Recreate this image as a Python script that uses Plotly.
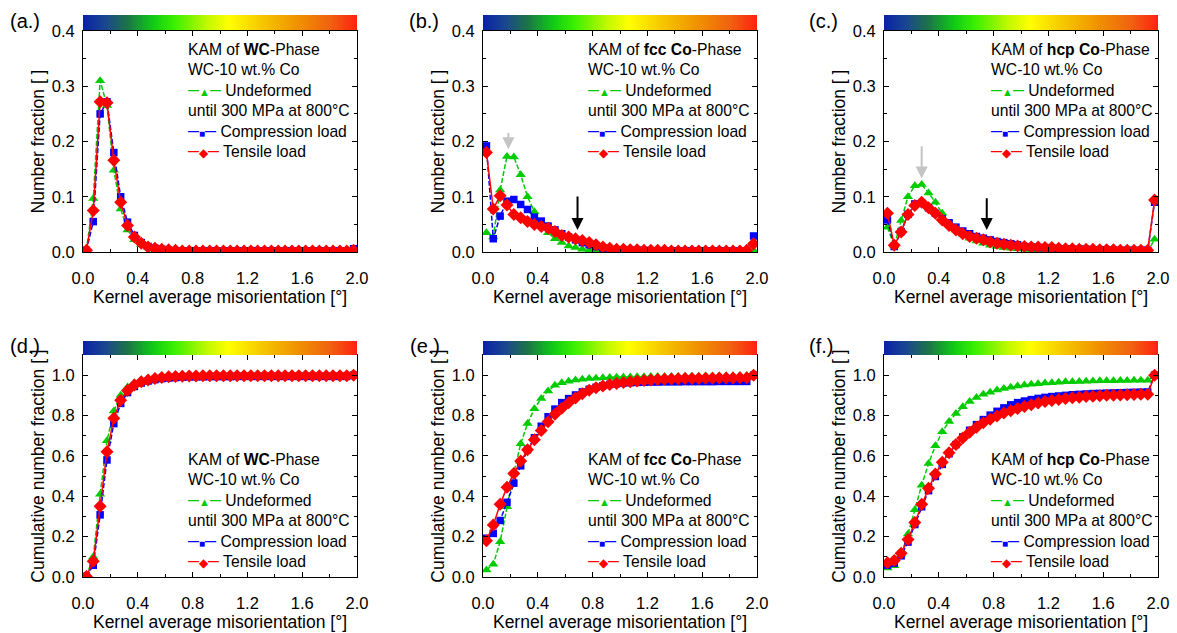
import plotly.graph_objects as go

# ---------------- data ----------------
kam_deg = [0.025, 0.075, 0.125, 0.175, 0.225, 0.275, 0.325, 0.375, 0.425, 0.475,
           0.525, 0.575, 0.625, 0.675, 0.725, 0.775, 0.825, 0.875, 0.925, 0.975,
           1.025, 1.075, 1.125, 1.175, 1.225, 1.275, 1.325, 1.375, 1.425, 1.475,
           1.525, 1.575, 1.625, 1.675, 1.725, 1.775, 1.825, 1.875, 1.925, 1.975]

series_names = ["Undeformed", "Compression load", "Tensile load"]

# (a) WC phase - number fraction
wc_undef = [0.003, 0.097, 0.310, 0.265, 0.148, 0.078, 0.040, 0.022, 0.013, 0.008,
            0.005, 0.003, 0.002, 0.002, 0.002, 0.002, 0.002, 0.002, 0.002, 0.002,
            0.002, 0.002, 0.002, 0.002, 0.002, 0.002, 0.002, 0.002, 0.002, 0.002,
            0.002, 0.002, 0.002, 0.002, 0.002, 0.002, 0.002, 0.002, 0.002, 0.002]
wc_comp = [0.003, 0.055, 0.250, 0.272, 0.180, 0.100, 0.054, 0.030, 0.017, 0.010,
           0.007, 0.005, 0.003, 0.002, 0.002, 0.002, 0.002, 0.002, 0.002, 0.002,
           0.002, 0.002, 0.002, 0.002, 0.002, 0.002, 0.002, 0.002, 0.002, 0.002,
           0.002, 0.002, 0.002, 0.002, 0.002, 0.002, 0.002, 0.002, 0.002, 0.006]
wc_tens = [0.003, 0.075, 0.272, 0.270, 0.166, 0.090, 0.048, 0.027, 0.016, 0.009,
           0.007, 0.005, 0.004, 0.003, 0.002, 0.002, 0.002, 0.002, 0.002, 0.002,
           0.002, 0.002, 0.002, 0.002, 0.002, 0.002, 0.002, 0.002, 0.002, 0.002,
           0.002, 0.002, 0.002, 0.002, 0.002, 0.002, 0.002, 0.002, 0.002, 0.003]

# (b) fcc Co phase - number fraction
fcc_undef = [0.035, 0.027, 0.112, 0.173, 0.172, 0.140, 0.100, 0.073, 0.050, 0.035,
             0.024, 0.017, 0.011, 0.008, 0.005, 0.003, 0.002, 0.002, 0.001, 0.001,
             0.001, 0.001, 0.001, 0.001, 0.001, 0.001, 0.001, 0.001, 0.001, 0.001,
             0.001, 0.001, 0.001, 0.001, 0.001, 0.001, 0.001, 0.001, 0.001, 0.003]
fcc_comp = [0.192, 0.024, 0.065, 0.092, 0.095, 0.086, 0.077, 0.063, 0.056, 0.047,
            0.040, 0.033, 0.027, 0.022, 0.017, 0.013, 0.010, 0.007, 0.005, 0.004,
            0.004, 0.003, 0.003, 0.003, 0.002, 0.002, 0.002, 0.002, 0.002, 0.002,
            0.002, 0.002, 0.002, 0.002, 0.002, 0.002, 0.002, 0.002, 0.002, 0.029]
fcc_tens = [0.180, 0.078, 0.102, 0.085, 0.068, 0.062, 0.055, 0.050, 0.046, 0.043,
            0.037, 0.030, 0.027, 0.024, 0.021, 0.017, 0.013, 0.009, 0.007, 0.005,
            0.005, 0.004, 0.004, 0.003, 0.003, 0.003, 0.003, 0.002, 0.002, 0.002,
            0.002, 0.002, 0.002, 0.002, 0.002, 0.002, 0.002, 0.002, 0.003, 0.015]

# (c) hcp Co phase - number fraction
hcp_undef = [0.045, 0.011, 0.057, 0.100, 0.120, 0.122, 0.107, 0.090, 0.070, 0.050,
             0.040, 0.032, 0.025, 0.020, 0.016, 0.012, 0.010, 0.008, 0.007, 0.006,
             0.005, 0.004, 0.003, 0.003, 0.002, 0.002, 0.002, 0.002, 0.001, 0.001,
             0.001, 0.001, 0.001, 0.001, 0.001, 0.001, 0.001, 0.001, 0.001, 0.023]
hcp_comp = [0.058, 0.010, 0.037, 0.068, 0.087, 0.088, 0.080, 0.070, 0.060, 0.053,
            0.045, 0.038, 0.033, 0.028, 0.025, 0.022, 0.019, 0.017, 0.015, 0.013,
            0.010, 0.009, 0.008, 0.008, 0.007, 0.006, 0.006, 0.005, 0.005, 0.005,
            0.004, 0.004, 0.004, 0.003, 0.003, 0.003, 0.003, 0.003, 0.003, 0.090]
hcp_tens = [0.070, 0.012, 0.036, 0.068, 0.084, 0.090, 0.080, 0.070, 0.058, 0.048,
            0.040, 0.033, 0.028, 0.025, 0.022, 0.018, 0.016, 0.014, 0.012, 0.011,
            0.010, 0.009, 0.009, 0.008, 0.008, 0.007, 0.006, 0.006, 0.005, 0.005,
            0.005, 0.004, 0.004, 0.004, 0.003, 0.003, 0.003, 0.003, 0.003, 0.094]

# (d) WC phase - cumulative number fraction
wc_undef_cum = [0.003, 0.100, 0.410, 0.675, 0.823, 0.901, 0.941, 0.963, 0.976, 0.984,
                0.989, 0.992, 0.994, 0.995, 0.996, 0.997, 0.997, 0.998, 0.998, 0.998,
                0.998, 0.999, 0.999, 0.999, 0.999, 0.999, 0.999, 0.999, 0.999, 0.999,
                0.999, 0.999, 0.999, 0.999, 0.999, 0.999, 0.999, 0.999, 0.999, 1.000]
wc_comp_cum = [0.003, 0.058, 0.308, 0.580, 0.760, 0.860, 0.914, 0.944, 0.961, 0.971,
               0.978, 0.983, 0.986, 0.988, 0.990, 0.991, 0.992, 0.992, 0.993, 0.993,
               0.993, 0.993, 0.994, 0.994, 0.994, 0.994, 0.994, 0.994, 0.994, 0.994,
               0.994, 0.994, 0.994, 0.994, 0.994, 0.994, 0.994, 0.994, 0.994, 1.000]
wc_tens_cum = [0.003, 0.078, 0.350, 0.620, 0.786, 0.876, 0.924, 0.951, 0.967, 0.976,
               0.983, 0.988, 0.992, 0.994, 0.995, 0.996, 0.996, 0.997, 0.997, 0.997,
               0.997, 0.997, 0.997, 0.997, 0.997, 0.997, 0.997, 0.997, 0.997, 0.997,
               0.997, 0.997, 0.997, 0.997, 0.997, 0.997, 0.997, 0.997, 0.997, 1.000]

# (e) fcc Co phase - cumulative number fraction
fcc_undef_cum = [0.035, 0.063, 0.175, 0.348, 0.515, 0.660, 0.760, 0.834, 0.885, 0.922,
                 0.950, 0.962, 0.970, 0.976, 0.980, 0.983, 0.985, 0.987, 0.989, 0.990,
                 0.991, 0.991, 0.992, 0.992, 0.993, 0.993, 0.994, 0.994, 0.994, 0.995,
                 0.995, 0.995, 0.996, 0.996, 0.996, 0.997, 0.997, 0.997, 0.997, 1.000]
fcc_comp_cum = [0.192, 0.216, 0.280, 0.370, 0.465, 0.551, 0.630, 0.690, 0.747, 0.794,
                0.832, 0.864, 0.884, 0.902, 0.917, 0.930, 0.940, 0.948, 0.954, 0.958,
                0.961, 0.963, 0.964, 0.965, 0.966, 0.966, 0.967, 0.967, 0.967, 0.968,
                0.968, 0.968, 0.968, 0.968, 0.969, 0.969, 0.969, 0.969, 0.969, 1.000]
fcc_tens_cum = [0.180, 0.258, 0.360, 0.445, 0.513, 0.575, 0.630, 0.680, 0.726, 0.769,
                0.806, 0.836, 0.863, 0.887, 0.908, 0.925, 0.938, 0.947, 0.954, 0.959,
                0.964, 0.968, 0.971, 0.974, 0.976, 0.978, 0.980, 0.981, 0.982, 0.983,
                0.984, 0.984, 0.985, 0.985, 0.986, 0.986, 0.986, 0.987, 0.987, 1.000]

# (f) hcp Co phase - cumulative number fraction
hcp_undef_cum = [0.045, 0.056, 0.113, 0.213, 0.333, 0.455, 0.562, 0.650, 0.720, 0.770,
                 0.810, 0.843, 0.870, 0.890, 0.905, 0.916, 0.926, 0.934, 0.940, 0.946,
                 0.951, 0.955, 0.958, 0.961, 0.963, 0.965, 0.967, 0.968, 0.969, 0.970,
                 0.971, 0.972, 0.973, 0.973, 0.974, 0.974, 0.975, 0.975, 0.975, 1.000]
hcp_comp_cum = [0.058, 0.068, 0.105, 0.173, 0.260, 0.348, 0.428, 0.498, 0.558, 0.611,
                0.656, 0.694, 0.727, 0.755, 0.780, 0.802, 0.821, 0.838, 0.853, 0.864,
                0.872, 0.879, 0.885, 0.890, 0.894, 0.897, 0.900, 0.903, 0.905, 0.907,
                0.909, 0.910, 0.911, 0.912, 0.913, 0.914, 0.915, 0.916, 0.917, 1.000]
hcp_tens_cum = [0.070, 0.082, 0.118, 0.186, 0.270, 0.360, 0.440, 0.510, 0.568, 0.616,
                0.656, 0.689, 0.717, 0.742, 0.764, 0.782, 0.798, 0.812, 0.824, 0.835,
                0.845, 0.854, 0.862, 0.869, 0.875, 0.880, 0.884, 0.888, 0.891, 0.894,
                0.896, 0.898, 0.900, 0.901, 0.902, 0.903, 0.904, 0.905, 0.906, 1.000]

panel_labels = ["(a.)", "(b.)", "(c.)", "(d.)", "(e.)", "(f.)"]
phase_titles = ["<b>WC</b>", "<b>fcc Co</b>", "<b>hcp Co</b>"] * 2
y_titles = ["Number fraction [ ]"] * 3 + ["Cumulative number fraction [ ]"] * 3
x_title = "Kernel average misorientation [°]"
x_ticks = [0.0, 0.4, 0.8, 1.2, 1.6, 2.0]

panel_series = [
    [wc_undef, wc_comp, wc_tens],
    [fcc_undef, fcc_comp, fcc_tens],
    [hcp_undef, hcp_comp, hcp_tens],
    [wc_undef_cum, wc_comp_cum, wc_tens_cum],
    [fcc_undef_cum, fcc_comp_cum, fcc_tens_cum],
    [hcp_undef_cum, hcp_comp_cum, hcp_tens_cum],
]

# arrows (panel index, x, y_tail, y_tip, colour)
arrow_x = [0.185, 0.69, 0.275, 0.75]
arrow_y_tail = [0.218, 0.103, 0.194, 0.100]
arrow_y_tip = [0.186, 0.040, 0.133, 0.040]
arrow_panel = [2, 2, 3, 3]
arrow_colour = ["#C4C4C4", "#000000", "#C4C4C4", "#000000"]

# colour bar strip levels (gradient samples)
colorbar_levels = [i / 100 for i in range(101)]

# ---------------- styling ----------------
W, H = 1177, 633
FONT = "Liberation Sans, Arial, sans-serif"
colors = ["#00CC00", "#0000FF", "#FF0000"]
symbols = ["triangle-up", "square", "diamond"]
msizes = [9, 7.5, 10]
dashes = ["5px,2px", "5px,2px", "solid"]

rainbow = [[0.0, "#0A22A8"], [0.08, "#1A4690"], [0.16, "#1C7448"], [0.25, "#10C818"],
           [0.33, "#38F000"], [0.45, "#C0F800"], [0.53, "#FFFF00"], [0.65, "#F6C800"],
           [0.78, "#F09200"], [0.9, "#F06210"], [1.0, "#FF2010"]]

col_px = [(83, 357), (483, 757), (884, 1158)]
row_px = [(31, 252), (355, 577)]
bar_px = [(15, 30), (341, 355)]
label_px = [(8, 21), (407, 21), (807, 21), (8, 346), (408, 346), (807, 346)]
legend_left_px = [186, 586, 989]
legend_mid_px = [100.5, 510.5]


def fx(p):
    return p / W


def fy(p):
    return 1 - p / H


fig = go.Figure()
layout = dict(width=W, height=H, margin=dict(l=0, r=0, t=0, b=0, autoexpand=False),
              paper_bgcolor="white", plot_bgcolor="white", showlegend=False,
              font=dict(family=FONT, color="black"))
annotations = []


def key(col, sym, size):
    dash = f"<span style='color:{col};font-size:11px;font-weight:bold;baseline-shift:2px'>—</span>"
    return dash + f"<span style='color:{col};font-size:{size}px'>{sym}</span>" + dash


for k in range(6):
    r, c = divmod(k, 3)
    xa = f"x{k + 1}" if k else "x"
    ya = f"y{k + 1}" if k else "y"
    xkey = f"xaxis{k + 1}" if k else "xaxis"
    ykey = f"yaxis{k + 1}" if k else "yaxis"
    for s in range(3):
        fig.add_trace(go.Scatter(
            x=kam_deg, y=panel_series[k][s], xaxis=xa, yaxis=ya, name=series_names[s],
            mode="lines+markers",
            line=dict(color=colors[s], width=1.5, dash=dashes[s]),
            marker=dict(symbol=symbols[s], size=msizes[s], color=colors[s], line=dict(width=0)),
        ))
    dom_x = [fx(col_px[c][0]), fx(col_px[c][1])]
    dom_y = [fy(row_px[r][1]), fy(row_px[r][0])]
    axis_common = dict(showline=True, linecolor="black", linewidth=1, mirror="allticks",
                       ticks="inside", ticklen=5, tickwidth=1, tickcolor="black",
                       showgrid=False, zeroline=False, tickformat=".1f", automargin=False,
                       tickfont=dict(family=FONT, size=16.5, color="black"))
    layout[xkey] = dict(axis_common, domain=dom_x, range=[0, 2.0], tickvals=x_ticks,
                        anchor=ya, ticklabelstandoff=11,
                        minor=dict(ticks="inside", ticklen=3, dtick=0.2, tick0=0, tickcolor="black"),
                        title=dict(text=x_title, font=dict(family=FONT, size=17.5), standoff=2))
    if r == 0:
        yr, ydt, ymin = [0, 0.4], 0.1, 0.05
    else:
        yr, ydt, ymin = [0, 1.1], 0.2, 0.1
    layout[ykey] = dict(axis_common, domain=dom_y, range=yr, dtick=ydt, tick0=0, anchor=xa,
                        ticklabelstandoff=4,
                        minor=dict(ticks="inside", ticklen=3, dtick=ymin, tick0=0, tickcolor="black"),
                        title=dict(text=y_titles[k], font=dict(family=FONT, size=17.5), standoff=2))

    # colour strip on top of each panel
    j = k + 7
    fig.add_trace(go.Heatmap(z=[colorbar_levels], x=colorbar_levels, y=[0],
                             xaxis=f"x{j}", yaxis=f"y{j}", colorscale=rainbow,
                             zmin=0, zmax=1, showscale=False, zsmooth="best", hoverinfo="skip"))
    layout[f"xaxis{j}"] = dict(domain=dom_x, range=[0, 1], visible=False, anchor=f"y{j}", fixedrange=True)
    layout[f"yaxis{j}"] = dict(domain=[fy(bar_px[r][1]), fy(bar_px[r][0])], range=[-0.5, 0.5],
                               visible=False, anchor=f"x{j}", fixedrange=True)

    # panel label
    annotations.append(dict(text=panel_labels[k], xref="paper", yref="paper",
                            x=fx(label_px[k][0]), y=fy(label_px[k][1]), xanchor="left",
                            yanchor="middle", showarrow=False,
                            font=dict(family=FONT, size=20, color="black")))

    # legend block
    lines = [
        f"KAM of {phase_titles[k]}-Phase",
        "WC-10 wt.% Co",
        f"{key(colors[0], '▲', 11)} {series_names[0]}",
        "until 300 MPa at 800°C",
        f"{key(colors[1], '■', 10)} {series_names[1]}",
        f"{key(colors[2], '◆', 12)} {series_names[2]}",
    ]
    annotations.append(dict(text="<br>".join(lines), xref="paper", yref="paper",
                            x=fx(legend_left_px[c]), y=fy(legend_mid_px[r]),
                            xanchor="left", yanchor="middle", align="left", showarrow=False,
                            font=dict(family=FONT, size=15.7, color="black")))

for i in range(len(arrow_x)):
    p = arrow_panel[i]
    annotations.append(dict(x=arrow_x[i], y=arrow_y_tip[i], ax=arrow_x[i], ay=arrow_y_tail[i],
                            xref=f"x{p}", yref=f"y{p}", axref=f"x{p}", ayref=f"y{p}",
                            text="", showarrow=True, arrowhead=2, arrowsize=1.2,
                            arrowwidth=2, arrowcolor=arrow_colour[i]))

layout["annotations"] = annotations
fig.update_layout(**layout)
fig.write_html("out.html", config={"displayModeBar": False},
               post_script="document.body.style.margin='0';")
